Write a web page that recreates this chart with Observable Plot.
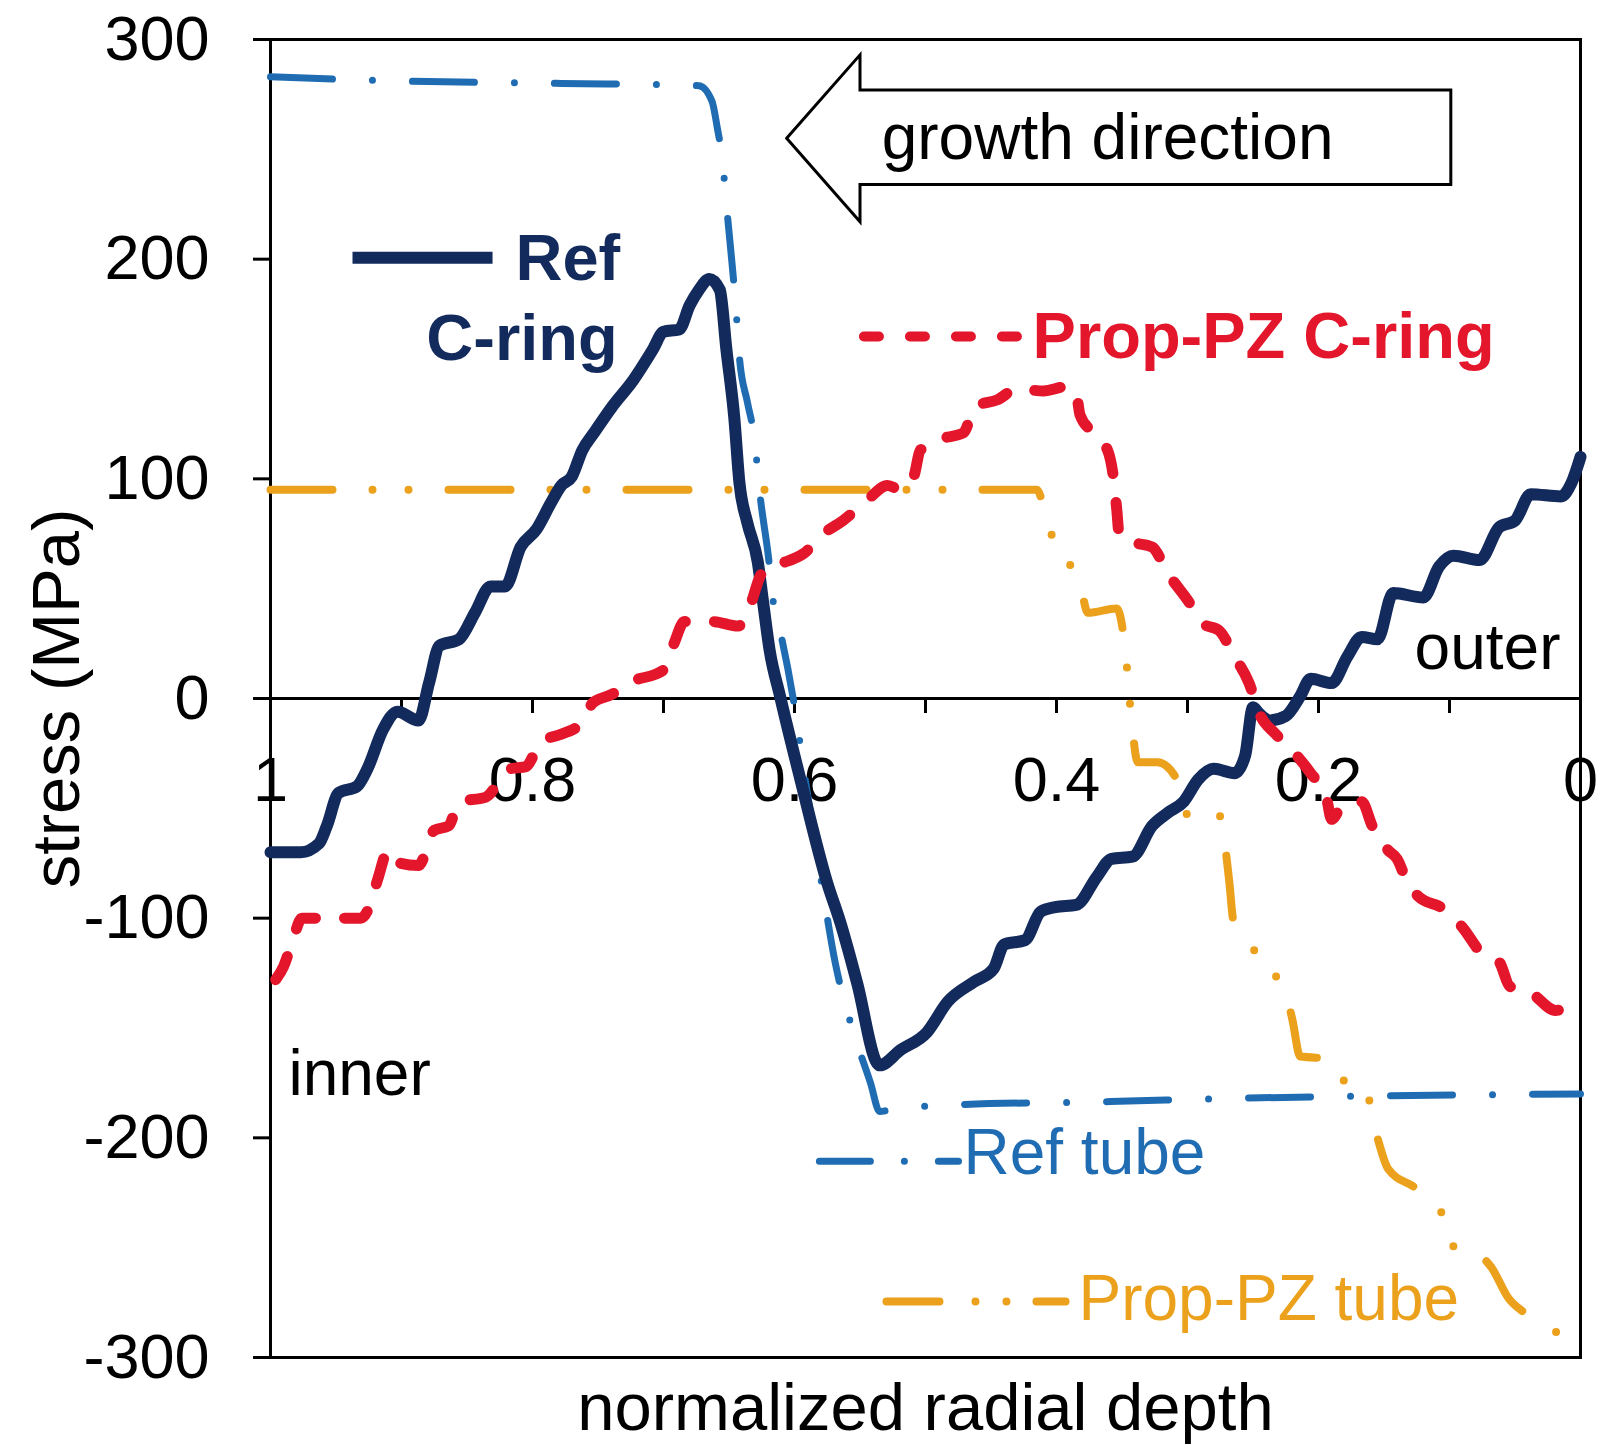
<!DOCTYPE html>
<html>
<head>
<meta charset="utf-8">
<script src="https://cdn.jsdelivr.net/npm/d3@7"></script>
<script src="https://cdn.jsdelivr.net/npm/@observablehq/plot@0.6"></script>
<style>
html, body { margin: 0; padding: 0; background: #fff; }
#chart { width: 1600px; height: 1445px; }
</style>
</head>
<body>
<div id="chart"></div>
<script>
// ---------- data ----------
const yTicks = [-300, -200, -100, 0, 100, 200, 300];
const xTicks = [1, 0.9, 0.8, 0.7, 0.6, 0.5, 0.4, 0.3, 0.2, 0.1, 0];
const xTickLabels = [1, 0.8, 0.6, 0.4, 0.2, 0];

// Ref C-ring (solid navy)
const refCringDepth = [1.000,0.977,0.963,0.957,0.948,0.934,0.926,0.914,0.903,0.887,0.879,0.871,0.856,0.844,0.832,0.821,0.809,0.797,0.786,0.778,0.770,0.762,0.753,0.739,0.723,0.708,0.700,0.688,0.680,0.673,0.665,0.657,0.652,0.646,0.642,0.636,0.628,0.624,0.619,0.611,0.595,0.575,0.565,0.552,0.537,0.535,0.519,0.499,0.483,0.463,0.448,0.440,0.424,0.412,0.401,0.385,0.369,0.358,0.342,0.327,0.315,0.303,0.292,0.280,0.264,0.256,0.250,0.245,0.237,0.225,0.214,0.206,0.190,0.178,0.167,0.155,0.143,0.120,0.108,0.097,0.077,0.062,0.050,0.038,0.015,0.007,0.000];
const refCringStress = [-70,-70,-66,-58,-43,-40,-32,-14,-6,-10,7,24,27,39,51,51,69,77,89,97,101,113,121,133,145,159,167,168,179,186,191,186,159,128,98,80,62,44,22,1,-38,-84,-102,-130,-166,-167,-160,-152,-138,-129,-123,-112,-110,-97,-95,-94,-81,-73,-72,-58,-52,-47,-37,-32,-34,-26,-4,-7,-10,-8,1,9,7,19,28,27,48,46,60,65,63,78,81,93,92,98,110];

// Prop-PZ C-ring (red dashed)
const propCringDepth = [0.996,0.990,0.983,0.976,0.931,0.924,0.918,0.910,0.901,0.887,0.875,0.864,0.856,0.836,0.817,0.805,0.793,0.782,0.762,0.754,0.739,0.727,0.700,0.692,0.684,0.662,0.643,0.634,0.626,0.621,0.608,0.593,0.578,0.563,0.545,0.529,0.519,0.509,0.504,0.489,0.471,0.462,0.445,0.430,0.410,0.392,0.385,0.382,0.372,0.361,0.356,0.354,0.352,0.341,0.327,0.315,0.299,0.288,0.276,0.264,0.253,0.245,0.233,0.221,0.206,0.194,0.190,0.182,0.167,0.159,0.147,0.140,0.132,0.124,0.104,0.089,0.077,0.062,0.054,0.038,0.019,0.007,0.000];
const propCringStress = [-128,-122,-110,-100,-100,-94,-82,-69,-75,-76,-60,-58,-47,-45,-32,-31,-19,-17,-11,-2,2,7,13,25,35,35,33,42,56,60,62,66,75,81,90,97,95,101,113,118,121,133,136,141,140,142,139,129,121,113,98,86,74,71,69,57,44,34,31,19,7,-7,-16,-23,-34,-45,-55,-49,-47,-58,-69,-73,-84,-90,-96,-105,-115,-120,-131,-134,-142,-139,-136];

// Ref tube (blue dash-dot)
const refTubeDepth = [1.000,0.895,0.778,0.673,0.663,0.659,0.655,0.652,0.648,0.645,0.642,0.636,0.631,0.626,0.620,0.616,0.610,0.601,0.591,0.579,0.569,0.556,0.542,0.535,0.525,0.479,0.359,0.264,0.162,0.000];
const refTubeStress = [283,281,280,279,272,260,245,225,200,180,155,135,120,91,65,43,28,0,-40,-85,-120,-150,-175,-188,-187,-185,-183.5,-182,-181,-180];

// Prop-PZ tube (orange dash-dot-dot)
const propTubeDepth = [1.000,0.415,0.406,0.396,0.383,0.376,0.354,0.348,0.343,0.338,0.323,0.307,0.299,0.276,0.268,0.265,0.253,0.241,0.229,0.220,0.214,0.190,0.177,0.164,0.155,0.147,0.128,0.111,0.093,0.087,0.068,0.055,0.042,0.015,0.000];
const propTubeStress = [95,95,78,65,55,39,41,25,-8,-29,-29,-38,-54,-53,-84,-101,-110,-124,-128,-146,-163,-164,-177,-179,-200,-214,-222,-228,-252,-251,-259,-273,-280,-290,-298];

// growth-direction arrow outline (data coordinates)
const arrowDepth = [0.606,0.550,0.550,0.099,0.099,0.550,0.550,0.606];
const arrowStress = [255,293,277,277,234,234,217,255];

// ---------- build ----------
const rows = (xs, ys) => xs.map((d, i) => ({depth: d, stress: ys[i]}));
const refCring = rows(refCringDepth, refCringStress);
const propCring = rows(propCringDepth, propCringStress);
const refTube = rows(refTubeDepth, refTubeStress);
const propTube = rows(propTubeDepth, propTubeStress);
const arrow = rows(arrowDepth, arrowStress);

const FONT = "'Liberation Sans', Arial, Helvetica, sans-serif";
const NAVY = "#132a5c", BLUE = "#1f6cb3", RED = "#e3162b", ORANGE = "#eba11c";

const seg = (x1, x2, y) => [{depth: x1, stress: y}, {depth: x2, stress: y}];
const label = (t, x, y, opts) => Plot.text([t], {x: () => x, y: () => y, text: d => d, lineAnchor: "middle", ...opts});

const chart = Plot.plot({
  width: 1600,
  height: 1445,
  marginLeft: 270,
  marginRight: 20,
  marginTop: 39,
  marginBottom: 88,
  style: {fontFamily: FONT, background: "#fff", color: "#000"},
  x: {domain: [1, 0], axis: null, label: null},
  y: {domain: [-300, 300], label: null},
  marks: [
    Plot.frame({stroke: "#000", strokeWidth: 3}),
    Plot.ruleY([0], {stroke: "#000", strokeWidth: 3}),
    Plot.axisY({ticks: yTicks, tickSize: 17, tickPadding: 44, fontSize: 63, strokeWidth: 3,
                tickFormat: d => String(d), label: null}),
    Plot.ruleX(xTicks, {x: d => d, y1: () => 0, y2: () => 0, insetBottom: -15, stroke: "#000", strokeWidth: 3}),
    Plot.text(xTickLabels, {x: d => d, y: () => 0, text: d => String(d), dy: 82, fontSize: 63,
                            textAnchor: "middle", lineAnchor: "middle"}),
    Plot.text(["stress (MPa)"], {frameAnchor: "left", dx: -213, rotate: -90, fontSize: 67,
                                 textAnchor: "middle", lineAnchor: "middle", text: d => d}),
    Plot.text(["normalized radial depth"], {frameAnchor: "bottom", dy: 51, fontSize: 67,
                                            textAnchor: "middle", lineAnchor: "middle", text: d => d}),

    // arrow annotation
    Plot.line(arrow, {x: "depth", y: "stress", fill: "#fff", stroke: "#000", strokeWidth: 3,
                      strokeLinejoin: "miter", strokeMiterlimit: 10, curve: "linear"}),
    label("growth direction", 0.361, 255, {fontSize: 64, textAnchor: "middle"}),

    // series
    Plot.line(propTube, {x: "depth", y: "stress", stroke: ORANGE, strokeWidth: 8,
                         strokeDasharray: "62,40,0,36,0,40", strokeLinecap: "round", curve: "monotone-x"}),
    Plot.line(refTube, {x: "depth", y: "stress", stroke: BLUE, strokeWidth: 7,
                        strokeDasharray: "62,40,0,40", strokeLinecap: "round", curve: "monotone-x"}),
    Plot.line(refCring, {x: "depth", y: "stress", stroke: NAVY, strokeWidth: 12,
                         strokeLinejoin: "round", curve: "monotone-x"}),
    Plot.line(propCring, {x: "depth", y: "stress", stroke: RED, strokeWidth: 11,
                          strokeDasharray: "26,29", strokeLinecap: "round", curve: "monotone-x"}),

    // legends / labels
    Plot.line(seg(0.9374, 0.8305, 200.7), {x: "depth", y: "stress", stroke: NAVY, strokeWidth: 12, strokeLinecap: "butt"}),
    label("Ref", 0.733, 200, {fontSize: 65, fontWeight: "bold", fill: NAVY, textAnchor: "end"}),
    label("C-ring", 0.735, 163.4, {fontSize: 65, fontWeight: "bold", fill: NAVY, textAnchor: "end"}),

    Plot.line(seg(0.5470, 0.4244, 164.8), {x: "depth", y: "stress", stroke: RED, strokeWidth: 10,
                                           strokeDasharray: "15,31", strokeLinecap: "round"}),
    label("Prop-PZ C-ring", 0.4183, 164.3, {fontSize: 65, fontWeight: "bold", fill: RED, textAnchor: "start"}),

    Plot.line(seg(0.581, 0.4748, -210.7), {x: "depth", y: "stress", stroke: BLUE, strokeWidth: 7,
                                           strokeDasharray: "51,34,0,34", strokeLinecap: "round"}),
    label("Ref tube", 0.471, -207, {fontSize: 64, fill: BLUE, textAnchor: "start"}),

    Plot.line(seg(0.5298, 0.3931, -274.5), {x: "depth", y: "stress", stroke: ORANGE, strokeWidth: 8,
                                            strokeDasharray: "53,36,0,31,0,30", strokeLinecap: "round"}),
    label("Prop-PZ tube", 0.3832, -273.6, {fontSize: 64, fill: ORANGE, textAnchor: "start"}),

    label("inner", 0.9863, -171.1, {fontSize: 64, textAnchor: "start"}),
    label("outer", 0.0153, 22.8, {fontSize: 64, textAnchor: "end"})
  ]
});
document.getElementById("chart").appendChild(chart);
</script>
</body>
</html>
